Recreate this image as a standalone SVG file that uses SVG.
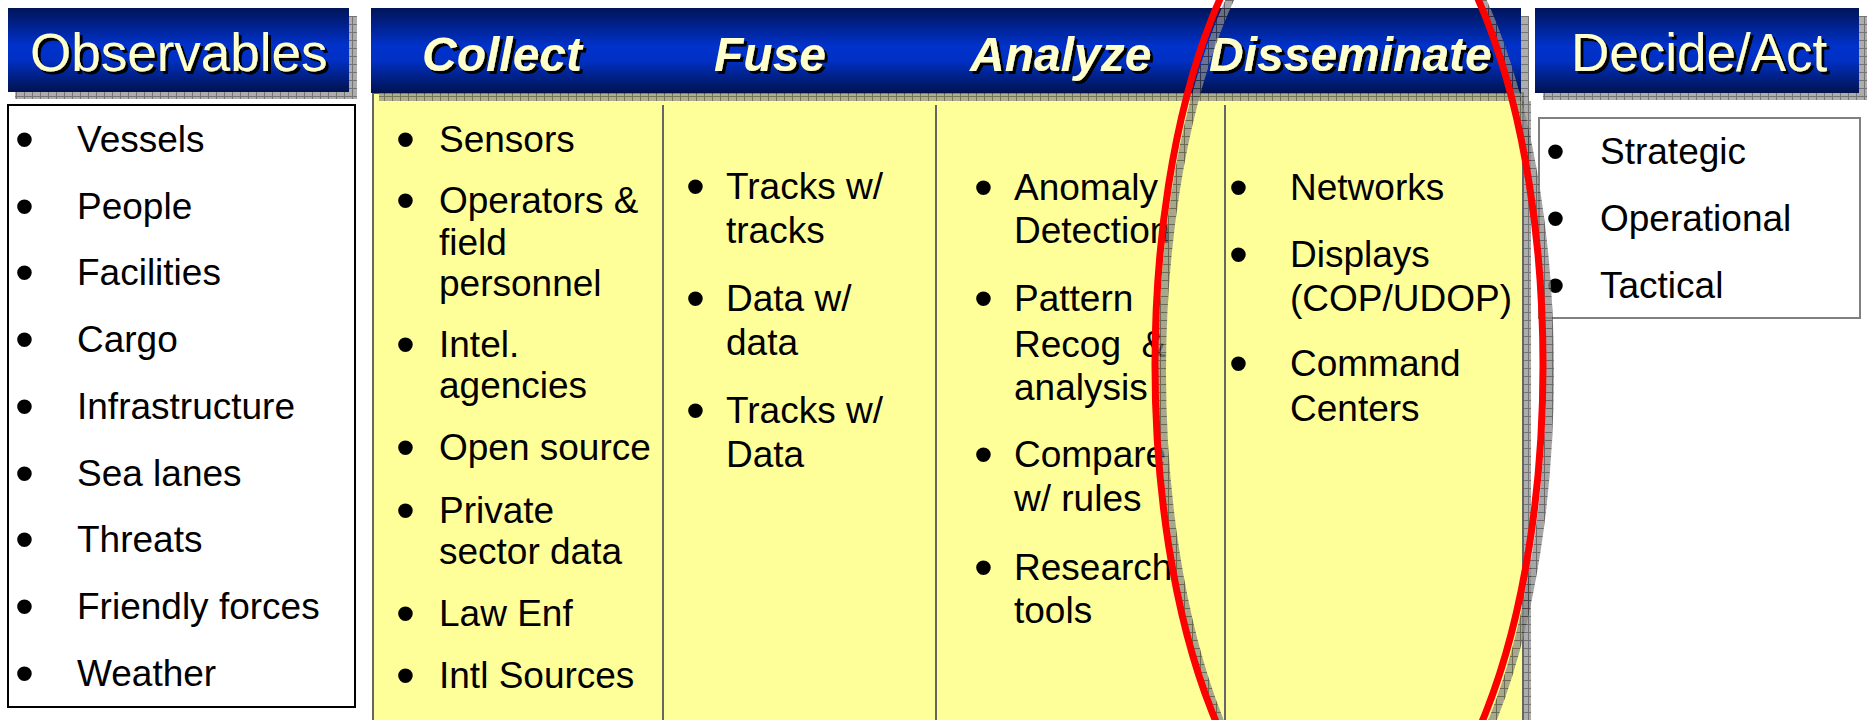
<svg xmlns="http://www.w3.org/2000/svg" width="1869" height="720" viewBox="0 0 1869 720">
<defs>
<linearGradient id="hdrGrad" x1="0" y1="0" x2="0" y2="1">
<stop offset="0" stop-color="#001458"/>
<stop offset="0.45" stop-color="#0032CC"/>
<stop offset="0.62" stop-color="#0030C4"/>
<stop offset="1" stop-color="#00124E"/>
</linearGradient>
<pattern id="chk" width="8" height="8" patternUnits="userSpaceOnUse">
<rect width="8" height="8" fill="#8a8a8a"/>
<path d="M0 0.5H8M0.5 0V8" stroke="#3a3a3a" stroke-width="1"/>
</pattern>
<filter id="tshadow" x="-5%" y="-10%" width="115%" height="140%">
<feDropShadow dx="3" dy="3" stdDeviation="0" flood-color="#000" flood-opacity="1"/>
</filter>
</defs>
<style>
.hdr{fill:url(#hdrGrad)}
.shd{fill:url(#chk);opacity:0.7}
.ht{font-family:"Liberation Sans",Arial,sans-serif;font-size:53px;fill:#FFFFCC;filter:url(#tshadow)}
.hti{font-weight:bold;font-style:italic;font-size:48px}
.bt{font-family:"Liberation Sans",Arial,sans-serif;font-size:37px;fill:#000}
.bu{font-family:"Liberation Sans",Arial,sans-serif;font-size:54px;fill:#000}
.dv{stroke:#666;stroke-width:2}
</style>
<rect width="1869" height="720" fill="#fff"/>

<g id="observables-header">
<rect class="shd" x="15" y="16" width="342" height="83"/>
<rect class="hdr" x="8" y="8" width="341" height="84"/>
<text class="ht" x="30" y="71">Observables</text>
</g>

<g id="observables-list">
<rect x="8" y="105" width="347" height="602" fill="#fff" stroke="#000" stroke-width="2"/>
<text class="bu"><tspan x="15" y="158">•</tspan><tspan x="15" y="225">•</tspan><tspan x="15" y="291">•</tspan><tspan x="15" y="358">•</tspan><tspan x="15" y="425">•</tspan><tspan x="15" y="492">•</tspan><tspan x="15" y="558">•</tspan><tspan x="15" y="625">•</tspan><tspan x="15" y="692">•</tspan></text>
<text class="bt"><tspan x="77" y="152">Vessels</tspan><tspan x="77" y="219">People</tspan><tspan x="77" y="285">Facilities</tspan><tspan x="77" y="352">Cargo</tspan><tspan x="77" y="419">Infrastructure</tspan><tspan x="77" y="486">Sea lanes</tspan><tspan x="77" y="552">Threats</tspan><tspan x="77" y="619">Friendly forces</tspan><tspan x="77" y="686">Weather</tspan></text>
</g>

<g id="process-columns">
<rect class="shd" x="381" y="101" width="1150" height="630"/>
<rect x="373" y="93" width="1150" height="640" fill="#FFFF99" stroke="#666" stroke-width="2"/>
<line class="dv" x1="663" y1="105" x2="663" y2="720"/>
<line class="dv" x1="936" y1="105" x2="936" y2="720"/>
<line class="dv" x1="1225" y1="105" x2="1225" y2="720"/>
</g>

<g id="process-header">
<rect class="shd" x="379" y="16" width="1150" height="85"/>
<rect class="hdr" x="371" y="8" width="1150" height="85"/>
<text class="ht hti" x="422" y="71">Collect</text>
<text class="ht hti" x="714" y="71">Fuse</text>
<text class="ht hti" x="970" y="71">Analyze</text>
<text class="ht hti" x="1209" y="71">Disseminate</text>
</g>

<g id="collect">
<text class="bu"><tspan x="396" y="158">•</tspan><tspan x="396" y="219">•</tspan><tspan x="396" y="363">•</tspan><tspan x="396" y="466">•</tspan><tspan x="396" y="529">•</tspan><tspan x="396" y="632">•</tspan><tspan x="396" y="694">•</tspan></text>
<text class="bt"><tspan x="439" y="152">Sensors</tspan><tspan x="439" y="213">Operators &amp;</tspan><tspan x="439" y="255">field</tspan><tspan x="439" y="296">personnel</tspan><tspan x="439" y="357">Intel.</tspan><tspan x="439" y="398">agencies</tspan><tspan x="439" y="460">Open source</tspan><tspan x="439" y="523">Private</tspan><tspan x="439" y="564">sector data</tspan><tspan x="439" y="626">Law Enf</tspan><tspan x="439" y="688">Intl Sources</tspan></text>
</g>

<g id="fuse">
<text class="bu"><tspan x="686" y="205">•</tspan><tspan x="686" y="317">•</tspan><tspan x="686" y="429">•</tspan></text>
<text class="bt"><tspan x="726" y="199">Tracks w/</tspan><tspan x="726" y="243">tracks</tspan><tspan x="726" y="311">Data w/</tspan><tspan x="726" y="355">data</tspan><tspan x="726" y="423">Tracks w/</tspan><tspan x="726" y="467">Data</tspan></text>
</g>

<g id="analyze">
<text class="bu"><tspan x="974" y="206">•</tspan><tspan x="974" y="317">•</tspan><tspan x="974" y="473">•</tspan><tspan x="974" y="586">•</tspan></text>
<text class="bt" xml:space="preserve"><tspan x="1014" y="200">Anomaly</tspan><tspan x="1014" y="243">Detection</tspan><tspan x="1014" y="311">Pattern</tspan><tspan x="1014" y="357">Recog  &amp;</tspan><tspan x="1014" y="400">analysis</tspan><tspan x="1014" y="467">Compare</tspan><tspan x="1014" y="511">w/ rules</tspan><tspan x="1014" y="580">Research</tspan><tspan x="1014" y="623">tools</tspan></text>
</g>

<g id="disseminate">
<text class="bu"><tspan x="1229" y="206">•</tspan><tspan x="1229" y="273">•</tspan><tspan x="1229" y="382">•</tspan></text>
<text class="bt"><tspan x="1290" y="200">Networks</tspan><tspan x="1290" y="267">Displays</tspan><tspan x="1290" y="311">(COP/UDOP)</tspan><tspan x="1290" y="376">Command</tspan><tspan x="1290" y="421">Centers</tspan></text>
</g>

<g id="decide-header">
<rect class="shd" x="1543" y="16" width="324" height="84"/>
<rect class="hdr" x="1535" y="8" width="324" height="85"/>
<text class="ht" x="1571" y="71">Decide/Act</text>
</g>

<g id="decide-list">
<rect x="1539" y="118" width="321" height="200" fill="#fff" stroke="#808080" stroke-width="2"/>
<text class="bu"><tspan x="1546" y="170">•</tspan><tspan x="1546" y="237">•</tspan><tspan x="1546" y="304">•</tspan></text>
<text class="bt"><tspan x="1600" y="164">Strategic</tspan><tspan x="1600" y="231">Operational</tspan><tspan x="1600" y="298">Tactical</tspan></text>
</g>

<g id="connectors"></g>

<g id="highlight">
<ellipse cx="1356" cy="372" rx="194" ry="490" fill="none" stroke="url(#chk)" stroke-width="8" opacity="0.75"/>
<ellipse cx="1349" cy="365" rx="194" ry="490" fill="none" stroke="#FF0000" stroke-width="7"/>
</g>
</svg>
